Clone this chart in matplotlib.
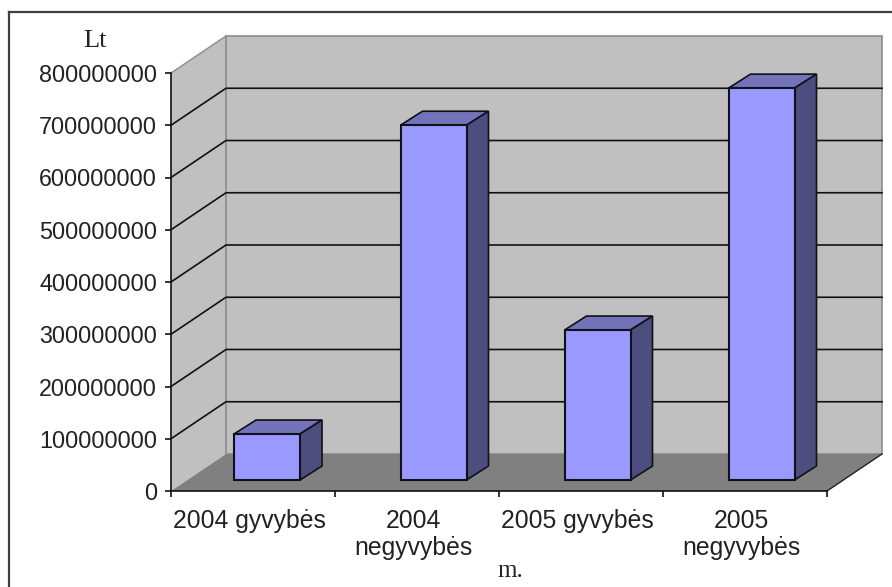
import matplotlib
matplotlib.use('Agg')
import matplotlib.pyplot as plt
import numpy as np

categories = ['2004 gyvybės', '2004\nnegyvybės', '2005 gyvybės', '2005\nnegyvybės']
values = [88000000, 679000000, 287000000, 750000000]
yticks = [0, 100000000, 200000000, 300000000, 400000000, 500000000, 600000000, 700000000, 800000000]

W, H = 892, 587
left, right, bottom, top = 171, 827, 491, 73  # plot box in pixels
px_x = (right - left) / len(categories)  # pixels per category
px_y = (bottom - top) / yticks[-1]  # pixels per value unit

# oblique depth of the room and of a bar, in data units
wall_dx, wall_dy = 55 / px_x, 37 / px_y
bar_dx, bar_dy = 22 / px_x, 14 / px_y
front_dx, base = 16.5 / px_x, 11 / px_y
width = 66 / px_x

plt.rcParams['font.family'] = ['Liberation Sans', 'DejaVu Sans']
fig = plt.figure(figsize=(W / 100, H / 100), dpi=100)
ax = fig.add_axes([left / W, 1 - bottom / H, (right - left) / W, (bottom - top) / H])
ax.set_xlim(0, len(categories))
ax.set_ylim(0, yticks[-1])
ax.patch.set_visible(False)

n = len(categories)
ymax = yticks[-1]
wall, floor = '#c0c0c0', '#808080'

# side wall, back wall, floor
ax.fill([0, wall_dx, wall_dx, 0], [0, wall_dy, ymax + wall_dy, ymax], color=wall, clip_on=False, lw=0, zorder=1)
ax.fill([wall_dx, n + wall_dx, n + wall_dx, wall_dx], [wall_dy, wall_dy, ymax + wall_dy, ymax + wall_dy],
        facecolor=wall, edgecolor='#8c8c8c', lw=1.2, clip_on=False, zorder=1)
ax.fill([0, n, n + wall_dx, wall_dx], [0, 0, wall_dy, wall_dy], color=floor, clip_on=False, lw=0, zorder=2)
ax.plot([0, wall_dx], [ymax, ymax + wall_dy], color='#8c8c8c', lw=1, clip_on=False, zorder=2)
ax.plot([n, n + wall_dx], [0, wall_dy], color='#202020', lw=1, clip_on=False, zorder=3)

# gridlines bend round the corner of the room
for t in yticks[1:-1]:
    ax.plot([0, wall_dx, n + wall_dx], [t, t + wall_dy, t + wall_dy], color='#111111', lw=1.2,
            clip_on=False, zorder=3)

# 3d bars: front face through ax.bar, then top and side
x = np.arange(n) + 0.5 + front_dx
x[0] -= 2.5 / px_x
ax.bar(x, values, width, bottom=base, color='#9999ff', edgecolor='#101018', lw=1.5, zorder=5, clip_on=False)
for xc, v in zip(x, values):
    x0, x1 = xc - width / 2, xc + width / 2
    y1 = base + v
    ax.fill([x0, x1, x1 + bar_dx, x0 + bar_dx], [y1, y1, y1 + bar_dy, y1 + bar_dy],
            facecolor='#7373ba', edgecolor='#101018', lw=1.2, clip_on=False, zorder=4)
    ax.fill([x1, x1 + bar_dx, x1 + bar_dx, x1], [base, base + bar_dy, y1 + bar_dy, y1],
            facecolor='#4d4d80', edgecolor='#101018', lw=1.2, clip_on=False, zorder=4)

# axes
for s in ['top', 'right']:
    ax.spines[s].set_visible(False)
for s in ['left', 'bottom']:
    ax.spines[s].set_linewidth(1.2)
    ax.spines[s].set_color('#111111')
    ax.spines[s].set_zorder(6)
ax.set_yticks(yticks)
ax.set_yticklabels([str(t) for t in yticks])
ax.set_xticks(np.arange(n + 1))
ax.set_xticklabels([])
ax.set_xticks(np.arange(n) + 0.5 - 4 / px_x, categories, minor=True)
ax.tick_params(axis='both', which='major', length=4, width=1.2, color='#111111', labelsize=16.8,
               labelcolor='#222222', pad=6)
ax.tick_params(axis='x', which='minor', length=0, labelsize=17.8, labelcolor='#222222', pad=13)
for lab in ax.get_xminorticklabels():
    lab.set_linespacing(1.18)

fig.text(95 / W, 1 - 41 / H, 'Lt', family='Liberation Serif', fontsize=19, color='#222222', ha='center', va='center')
fig.text(510 / W, 1 - 571 / H, 'm.', family='Liberation Serif', fontsize=18, color='#222222', ha='center', va='center')

# chart frame, only top and left fall inside the canvas
fig.add_artist(plt.Line2D([9 / W, 9 / W], [0, 1 - 12 / H], color='#404040', lw=1.6))
fig.add_artist(plt.Line2D([9 / W, 1], [1 - 12 / H, 1 - 12 / H], color='#404040', lw=1.6))

fig.savefig('out.png', dpi=100)
